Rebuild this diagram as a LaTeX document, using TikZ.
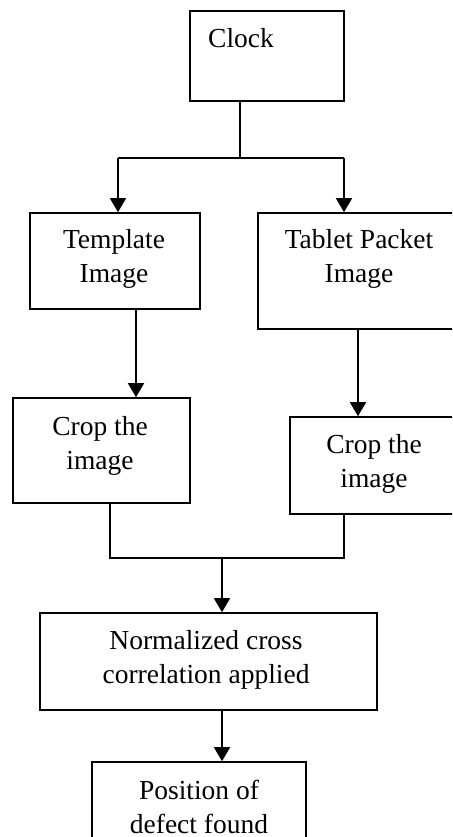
\documentclass[tikz,border=0pt]{standalone}
\usepackage{fontspec}
\setmainfont{Liberation Serif}
\usetikzlibrary{arrows.meta,calc}
\begin{document}
\begin{tikzpicture}[x=1pt,y=-1pt,
  box/.style={draw,line width=1.6pt,inner sep=0pt},
  txt/.style={font=\fontsize{27.5}{34}\selectfont,align=center,inner sep=0pt},
  conn/.style={line width=1.6pt},
  arr/.style={line width=1.6pt,-{Triangle[width=16pt,length=14pt]}}]
\useasboundingbox (0,0) rectangle (452,837);
\clip (0,0) rectangle (452,837);
% boxes
\node[box,minimum width=154pt,minimum height=90pt] (clock) at (267,56) {};
\node[box,minimum width=170pt,minimum height=96pt] (tmpl) at (115,261) {};
\node[box,minimum width=196pt,minimum height=116pt] (tab) at (356,271) {};
\node[box,minimum width=177pt,minimum height=105pt] (cropL) at (101.5,450.5) {};
\node[box,minimum width=164pt,minimum height=97pt] (cropR) at (372,465.5) {};
\node[box,minimum width=337pt,minimum height=97pt] (ncc) at (208.5,661.5) {};
\node[box,minimum width=214pt,minimum height=92pt] (pos) at (199,808) {};
% texts
\node[txt,anchor=west] (tclock) at (208,38) {Clock};
\node[txt] (ttmpl) at (114,259) {Template\\Image};
\node[txt] (ttab) at (359,259) {Tablet Packet\\Image};
\node[txt] (tcropL) at (100,446) {Crop the\\image};
\node[txt] (tcropR) at (374,464) {Crop the\\image};
\node[txt] (tncc) at (206,660) {Normalized cross\\correlation applied};
\node[txt] (tpos) at (199,807) {Position of\\defect found};
% junction coordinates
\coordinate (cs) at ([xshift=-27pt]clock.south);
\coordinate (j1) at ($(cs)+(0,57)$);
\coordinate (aL) at (118,158);
\coordinate (aR) at (344,158);
\coordinate (m) at (222,558);
% connectors
\draw[conn] (cs) -- (j1);
\draw[conn] (aL) -- (aR);
\draw[arr] (aL) -- (aL |- tmpl.north);
\draw[arr] (aR) -- (aR |- tab.north);
\draw[arr] ([xshift=21pt]tmpl.south) -- ([xshift=21pt]tmpl.south |- cropL.north);
\draw[arr] ([xshift=2pt]tab.south) -- ([xshift=2pt]tab.south |- cropR.north);
\draw[conn] ([xshift=8.5pt]cropL.south) |- (m);
\draw[conn] ([xshift=-28pt]cropR.south) |- (m);
\draw[arr] (m) -- (m |- ncc.north);
\draw[arr] (m |- ncc.south) -- (m |- pos.north);
\end{tikzpicture}
\end{document}
